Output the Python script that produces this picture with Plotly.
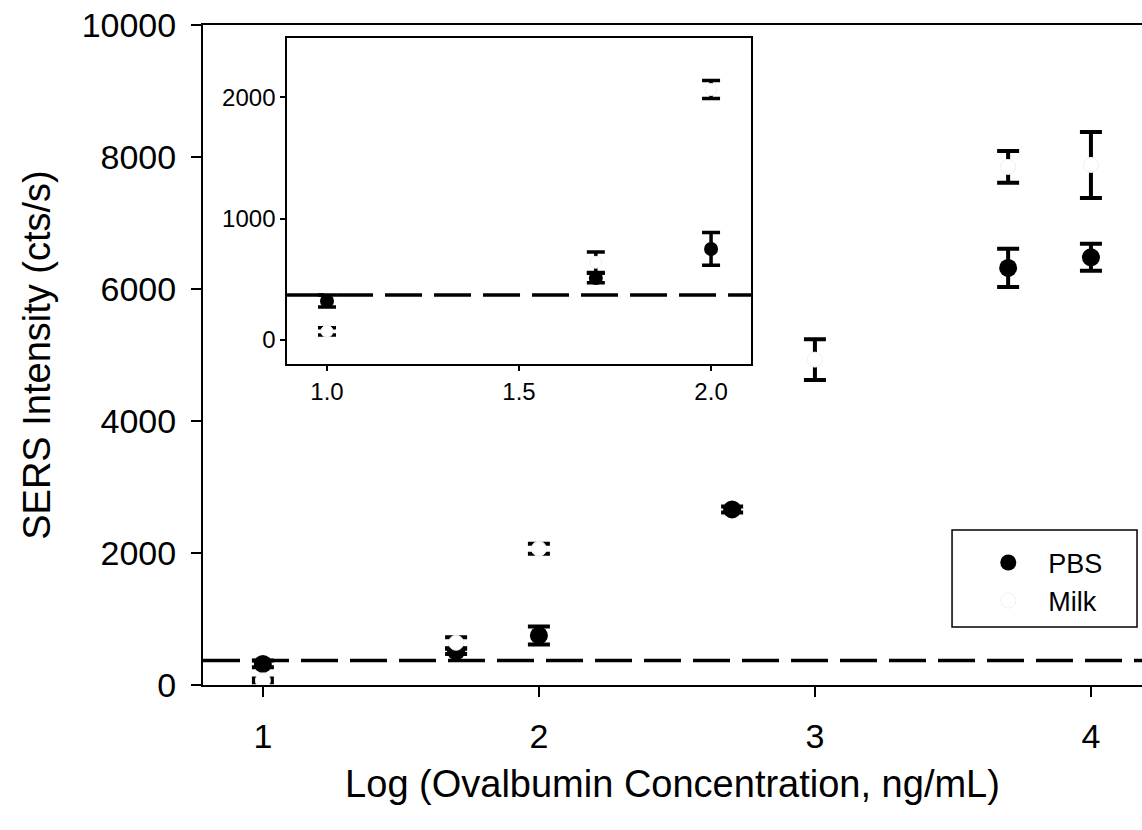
import plotly.graph_objects as go

# ---- data ----
pbs_x = [1.0, 1.7, 2.0, 2.7, 3.7, 4.0]
pbs_y = [320, 510, 750, 2660, 6320, 6480]
pbs_err = [50, 40, 135, 45, 290, 205]

milk_x = [1.0, 1.7, 2.0, 3.0, 3.7, 4.0]
milk_y = [70, 640, 2065, 4930, 7850, 7880]
milk_err = [30, 85, 75, 310, 240, 500]

lod = 370  # detection-limit dashed line

main_xticks = [1, 2, 3, 4]
main_yticks = [0, 2000, 4000, 6000, 8000, 10000]
inset_xticks = [1.0, 1.5, 2.0]
inset_yticks = [0, 1000, 2000]
inset_xmax = 2.1

FONT = "Liberation Sans, Arial, Helvetica, sans-serif"

fig = go.Figure()

# main plot
fig.add_trace(go.Scatter(
    x=pbs_x, y=pbs_y, mode="markers", name="PBS",
    marker=dict(symbol="circle", size=18, color="black"),
    error_y=dict(type="data", array=pbs_err, thickness=4, width=11, color="black"),
    xaxis="x", yaxis="y"))
fig.add_trace(go.Scatter(
    x=milk_x, y=milk_y, mode="markers", name="Milk",
    marker=dict(symbol="circle", size=15, color="white",
                line=dict(color="#f0f0f0", width=1)),
    error_y=dict(type="data", array=milk_err, thickness=4, width=11, color="black"),
    xaxis="x", yaxis="y"))

# inset (same data, low-concentration part)
ip = [i for i, v in enumerate(pbs_x) if v <= inset_xmax]
im = [i for i, v in enumerate(milk_x) if v <= inset_xmax]
fig.add_trace(go.Scatter(
    x=[pbs_x[i] for i in ip], y=[pbs_y[i] for i in ip], mode="markers",
    showlegend=False,
    marker=dict(symbol="circle", size=14, color="black"),
    error_y=dict(type="data", array=[pbs_err[i] for i in ip], thickness=3.5, width=9, color="black"),
    xaxis="x2", yaxis="y2"))
fig.add_trace(go.Scatter(
    x=[milk_x[i] for i in im], y=[milk_y[i] for i in im], mode="markers",
    showlegend=False,
    marker=dict(symbol="circle", size=12, color="white",
                line=dict(color="#f0f0f0", width=1)),
    error_y=dict(type="data", array=[milk_err[i] for i in im], thickness=3.5, width=9, color="black"),
    xaxis="x2", yaxis="y2"))

# dashed detection-limit lines
fig.add_shape(type="line", xref="x domain", yref="y", x0=0, x1=1, y0=lod, y1=lod,
              line=dict(color="black", width=3.5, dash="37px,12px"))
fig.add_shape(type="line", xref="x2 domain", yref="y2", x0=0, x1=1, y0=lod, y1=lod,
              line=dict(color="black", width=3.5, dash="37px,12px"))

# legend frame
fig.add_shape(type="rect", xref="paper", yref="paper",
              x0=0.7977, x1=0.9947, y0=0.0879, y1=0.2348,
              line=dict(color="black", width=1.5), fillcolor="rgba(0,0,0,0)")

axis_common = dict(showgrid=False, zeroline=False, showline=True, linecolor="black",
                   ticks="outside", tickcolor="black")

fig.update_layout(
    width=1142, height=830, autosize=False,
    margin=dict(l=203, r=0, t=25, b=145),
    paper_bgcolor="white", plot_bgcolor="white",
    font=dict(family=FONT, color="black"),
    xaxis=dict(**axis_common, range=[0.783, 4.185], tickvals=main_xticks,
               linewidth=2, tickwidth=2, ticklen=10, mirror=True,
               tickfont=dict(size=34), ticklabelstandoff=10,
               title=dict(text="Log (Ovalbumin Concentration, ng/mL)",
                          font=dict(size=38), standoff=17),
               domain=[0, 1], anchor="y"),
    yaxis=dict(**axis_common, range=[0, 10000], tickvals=main_yticks, tickformat="d",
               linewidth=2, tickwidth=2, ticklen=10,
               tickfont=dict(size=34), ticklabelstandoff=8,
               title=dict(text="SERS Intensity (cts/s)", font=dict(size=38), standoff=19),
               domain=[0, 1], anchor="x"),
    xaxis2=dict(**axis_common, range=[0.896, 2.104], tickvals=inset_xticks,
                tickformat=".1f", linewidth=1.5, tickwidth=1.5, ticklen=5, mirror=True,
                tickfont=dict(size=24), ticklabelstandoff=0,
                domain=[0.0895, 0.5836], anchor="y2"),
    yaxis2=dict(**axis_common, range=[-199, 2490], tickvals=inset_yticks, tickformat="d",
                linewidth=1.5, tickwidth=1.5, ticklen=5, mirror=True,
                tickfont=dict(size=24), ticklabelstandoff=0,
                domain=[0.4864, 0.9803], anchor="x2"),
    showlegend=True,
    legend=dict(x=0.815, y=0.222, xanchor="left", yanchor="top",
                bgcolor="rgba(0,0,0,0)", borderwidth=0,
                font=dict(size=27), itemwidth=70, tracegroupgap=0),
)

fig.write_html("out.html")
